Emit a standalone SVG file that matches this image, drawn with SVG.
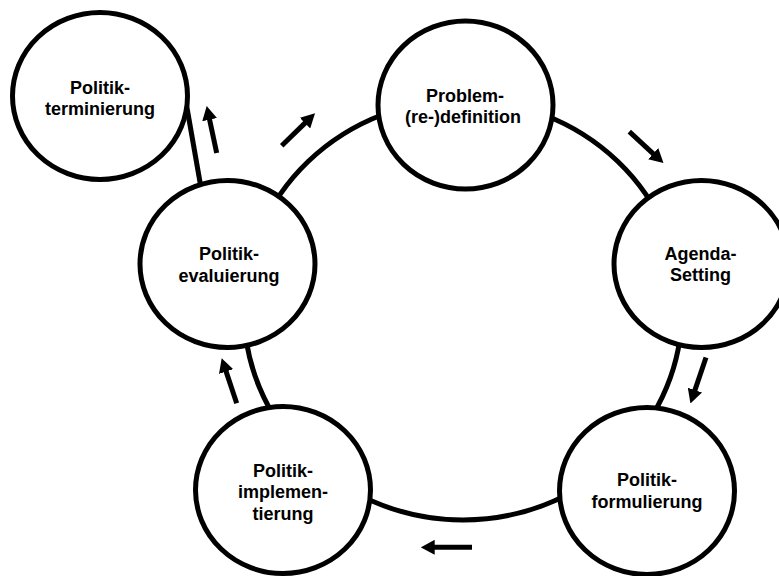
<svg xmlns="http://www.w3.org/2000/svg" width="779" height="576" viewBox="0 0 779 576">
  <style>
    .node { fill: #ffffff; stroke: #000000; stroke-width: 5; }
    .conn { fill: none; stroke: #000000; stroke-width: 5; }
    .arrow { fill: none; stroke: #000000; stroke-width: 5; marker-end: url(#head); }
    .lbl { font-family: "Liberation Sans", Arial, Helvetica, sans-serif; font-weight: bold; font-size: 18px; fill: #000000; text-anchor: middle; }
  </style>
  <defs>
    <marker id="head" viewBox="0 0 2.8 3" markerWidth="2.8" markerHeight="3" refX="0.2" refY="1.5" orient="auto" markerUnits="strokeWidth">
      <path d="M0,0 L2.8,1.5 L0,3 Z" fill="#000000"/>
    </marker>
  </defs>
  <rect width="779" height="576" fill="#ffffff"/>
  <g id="connectors">
    <ellipse class="conn" cx="463" cy="310" rx="219" ry="210"/>
    <line class="conn" x1="204" y1="205" x2="183" y2="85"/>
    <line class="arrow" x1="216.7" y1="153" x2="209.4" y2="118.7"/>
    <line class="arrow" x1="281.7" y1="145.7" x2="305.7" y2="122.4"/>
    <line class="arrow" x1="629.3" y1="131.7" x2="653.9" y2="154.3"/>
    <line class="arrow" x1="706" y1="357.5" x2="694.6" y2="391.1"/>
    <line class="arrow" x1="472" y1="547.3" x2="433.7" y2="547.3"/>
    <line class="arrow" x1="236.7" y1="403.3" x2="225.8" y2="370.6"/>
  </g>
  <g id="terminierung">
    <ellipse class="node" cx="100" cy="96" rx="87.5" ry="83.5"/>
    <text class="lbl" x="100" y="94">Politik-</text>
    <text class="lbl" x="100" y="115">terminierung</text>
  </g>
  <g id="problemdefinition">
    <ellipse class="node" cx="465.5" cy="105" rx="87.5" ry="84"/>
    <text class="lbl" x="465" y="101.5">Problem-</text>
    <text class="lbl" x="463" y="123">(re-)definition</text>
  </g>
  <g id="agenda-setting">
    <ellipse class="node" cx="701.5" cy="264" rx="87.5" ry="83.5"/>
    <text class="lbl" x="700.5" y="259.5">Agenda-</text>
    <text class="lbl" x="700.5" y="281">Setting</text>
  </g>
  <g id="formulierung">
    <ellipse class="node" cx="647" cy="491" rx="87.5" ry="83.5"/>
    <text class="lbl" x="647" y="486">Politik-</text>
    <text class="lbl" x="647" y="508">formulierung</text>
  </g>
  <g id="implementierung">
    <ellipse class="node" cx="283" cy="490" rx="87.5" ry="83.5"/>
    <text class="lbl" x="283" y="476.5">Politik-</text>
    <text class="lbl" x="283" y="498">implemen-</text>
    <text class="lbl" x="283" y="519.5">tierung</text>
  </g>
  <g id="evaluierung">
    <ellipse class="node" cx="227.5" cy="264" rx="87.5" ry="83.5"/>
    <text class="lbl" x="229" y="260">Politik-</text>
    <text class="lbl" x="229" y="281.5">evaluierung</text>
  </g>
</svg>
